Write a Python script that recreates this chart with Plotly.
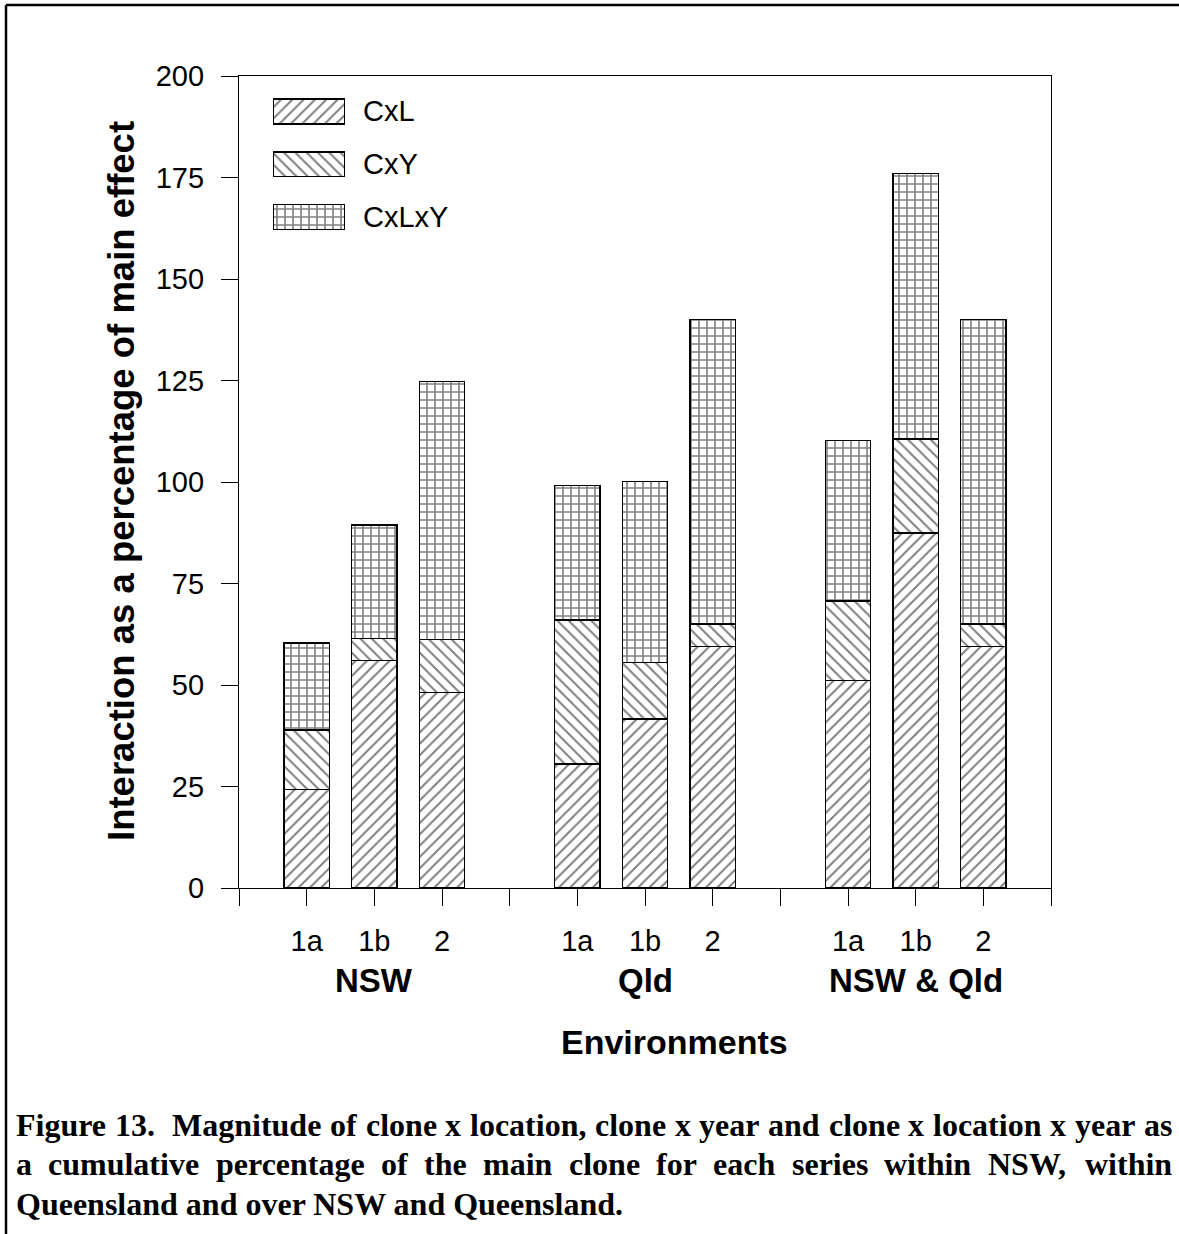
import plotly.graph_objects as go

# ---- data ----
groups = ["NSW", "Qld", "NSW & Qld"]
series_labels = ["1a", "1b", "2"]
x_pos = [1, 2, 3, 5, 6, 7, 9, 10, 11]          # slot positions of the nine bars
cxl = [24.3, 56.0, 48.2, 30.5, 41.6, 59.5, 51.1, 87.4, 59.5]
cxy = [14.6, 5.5, 13.0, 35.5, 13.9, 5.5, 19.6, 23.2, 5.5]
cxlxy = [21.4, 27.9, 63.6, 33.2, 44.6, 75.0, 39.5, 65.4, 75.0]
component_names = ["CxL", "CxY", "CxLxY"]
component_values = [cxl, cxy, cxlxy]
patterns = ["/", "\\", "+"]
y_ticks = [0, 25, 50, 75, 100, 125, 150, 175, 200]
caption_lines = [
    "Figure 13.  Magnitude of clone x location, clone x year and clone x location x year as",
    "a cumulative percentage of the main clone for each series within NSW, within",
    "Queensland and over NSW and Queensland.",
]

W, H = 1179, 1234
L, R, T, B = 239, 1051, 76, 888
PW, PH = R - L, B - T


def px(xp):
    return (xp - L) / PW


def py(yp):
    return (B - yp) / PH


fig = go.Figure()

line_pat = dict(fgcolor="black", bgcolor="white", size=8, solidity=0.25)
grid_pat = dict(fgcolor="black", bgcolor="white", size=8, solidity=0.36)


def pat_for(shape):
    base = grid_pat if shape == "+" else line_pat
    return dict(shape=shape, **base)


for name, vals, pat in zip(component_names, component_values, patterns):
    fig.add_trace(go.Bar(
        x=x_pos, y=vals, name=name, width=0.67,
        marker=dict(color="white", line=dict(color="black", width=1.5),
                    pattern=pat_for(pat)),
        showlegend=False, xaxis="x", yaxis="y",
    ))

# legend swatches (inset axis)
for i, (name, pat) in enumerate(zip(component_names, patterns)):
    fig.add_trace(go.Bar(
        x=[1], y=[i], orientation="h", width=0.47, showlegend=False,
        marker=dict(color="white", line=dict(color="black", width=1.6),
                    pattern=pat_for(pat)),
        xaxis="x2", yaxis="y2", hoverinfo="skip",
    ))

tickvals = list(range(0, 13))
ticktext = [""] * 13
for gi in range(3):
    for si, lab in enumerate(series_labels):
        ticktext[gi * 4 + 1 + si] = lab

font_reg = "Liberation Sans, Arial, sans-serif"
font_serif = "Liberation Serif, Times New Roman, serif"

fig.update_layout(
    width=W, height=H,
    margin=dict(l=L, r=W - R, t=T, b=H - B),
    paper_bgcolor="white", plot_bgcolor="white",
    barmode="stack",
    font=dict(family=font_reg, color="black", size=29),
    xaxis=dict(range=[0, 12], tickvals=tickvals, ticktext=ticktext,
               ticks="outside", ticklen=17, tickwidth=1.2, tickcolor="black",
               showline=True, linecolor="black", linewidth=1.3, mirror=True,
               showgrid=False, zeroline=False, ticklabelstandoff=10,
               tickfont=dict(size=29)),
    yaxis=dict(range=[0, 200], tickvals=y_ticks,
               ticks="outside", ticklen=17, tickwidth=1.2, tickcolor="black",
               showline=True, linecolor="black", linewidth=1.3, mirror=True,
               showgrid=False, zeroline=False, ticklabelstandoff=11,
               tickfont=dict(size=29)),
    xaxis2=dict(domain=[px(273), px(345)], range=[0, 1], anchor="y2",
                visible=False, fixedrange=True),
    yaxis2=dict(domain=[py(243.3), py(85)], range=[2.5, -0.5], anchor="x2",
                visible=False, fixedrange=True),
)

annotations = []
# legend labels
for i, name in enumerate(component_names):
    annotations.append(dict(x=px(361), xref="paper", y=i, yref="y2", text=name,
                            showarrow=False, xanchor="left", yanchor="middle",
                            font=dict(size=29, family=font_reg)))
# group labels
for gi, g in enumerate(groups):
    annotations.append(dict(x=gi * 4 + 2, xref="x", y=py(980), yref="paper",
                            text="<b>%s</b>" % g, showarrow=False,
                            xanchor="center", yanchor="middle",
                            font=dict(size=33, family=font_reg)))
# axis titles
annotations.append(dict(x=px(674), xref="paper", y=py(1042), yref="paper",
                        text="<b>Environments</b>", showarrow=False,
                        xanchor="center", yanchor="middle",
                        font=dict(size=34, family=font_reg)))
annotations.append(dict(x=px(121), xref="paper", y=py(481), yref="paper",
                        text="<b>Interaction as a percentage of main effect</b>",
                        textangle=-90, showarrow=False,
                        xanchor="center", yanchor="middle",
                        font=dict(size=36.5, family=font_reg)))

# caption: justified lines (Times-Bold advance widths, per 1000 em)
tb = {" ": 250, ".": 250, ",": 250, "0": 500, "1": 500, "2": 500, "3": 500,
      "a": 500, "b": 556, "c": 444, "d": 556, "e": 444, "f": 333, "g": 500,
      "h": 556, "i": 278, "j": 333, "k": 556, "l": 278, "m": 833, "n": 556,
      "o": 500, "p": 556, "q": 556, "r": 444, "s": 389, "t": 333, "u": 556,
      "v": 500, "w": 722, "x": 500, "y": 500, "z": 444,
      "F": 611, "M": 944, "N": 722, "S": 556, "W": 1000, "Q": 778}
cap_size = 32
cap_left, cap_right = 15, 1171
cap_y = [1125, 1164, 1204]


def adv(ch):
    return tb.get(ch, 500) * cap_size / 1000.0


for li, (line, yc) in enumerate(zip(caption_lines, cap_y)):
    justify = li < len(caption_lines) - 1
    if justify:
        natural = sum(adv(c) for c in line)
        n_sp = line.count(" ")
        extra = (cap_right - cap_left - natural) / n_sp
        xcur = cap_left
        word = ""
        wstart = xcur
        for ch in line + " ":
            if ch == " ":
                if word:
                    annotations.append(dict(
                        x=px(wstart), xref="paper", y=py(yc), yref="paper",
                        text="<b>%s</b>" % word, showarrow=False,
                        xanchor="left", yanchor="middle", borderpad=0,
                        font=dict(size=cap_size, family=font_serif)))
                word = ""
                xcur += adv(" ") + extra
            else:
                if not word:
                    wstart = xcur
                word += ch
                xcur += adv(ch)
    else:
        annotations.append(dict(x=px(cap_left), xref="paper", y=py(yc), yref="paper",
                                text="<b>%s</b>" % line, showarrow=False,
                                xanchor="left", yanchor="middle", borderpad=0,
                                font=dict(size=cap_size, family=font_serif)))
fig.update_layout(annotations=annotations)

# page frame (top and left rules)
fig.add_shape(type="line", xref="paper", yref="paper",
              x0=px(6), x1=px(1179), y0=py(5), y1=py(5),
              line=dict(color="black", width=2.5))
fig.add_shape(type="line", xref="paper", yref="paper",
              x0=px(6), x1=px(6), y0=py(5), y1=py(1234),
              line=dict(color="black", width=2.5))

fig.write_html("out.html")
